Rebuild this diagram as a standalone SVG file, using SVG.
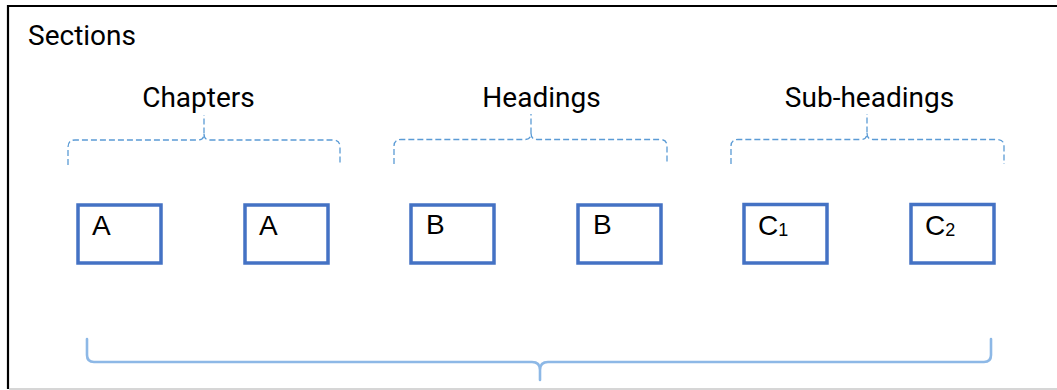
<svg xmlns="http://www.w3.org/2000/svg" width="1057" height="390" viewBox="0 0 1057 390">
<style>
.hdr{font-family:Roboto,"Liberation Sans",sans-serif;font-size:28px;fill:#000}
.lbl{font-family:"Liberation Sans",Arial,sans-serif;font-size:28px;fill:#000}
.box{fill:#fff;stroke:#4472C4;stroke-width:3.5}
.dash{fill:none;stroke:#5B9BD5;stroke-width:1.3;stroke-dasharray:6 3}
.brace{fill:none;stroke:#8DB8E6;stroke-width:2.6;stroke-linecap:round}
</style>
<rect x="0" y="0" width="1057" height="390" fill="#fff"/>
<g id="frame">
<line x1="1057" y1="6" x2="8" y2="6" stroke="#000" stroke-width="2.2"/>
<line x1="8" y1="5" x2="8" y2="389" stroke="#000" stroke-width="2.2"/>
<line x1="9" y1="389" x2="1057" y2="389" stroke="#c8c8c8" stroke-width="1.5"/>
</g>
<g id="title"><text class="hdr" x="28" y="45">Sections</text></g>
<g id="chapters"><text class="hdr" x="198.5" y="107" text-anchor="middle">Chapters</text></g>
<g id="headings"><text class="hdr" x="541.5" y="107" text-anchor="middle">Headings</text></g>
<g id="subheadings"><text class="hdr" x="869.5" y="107" text-anchor="middle">Sub-headings</text></g>
<g id="connectors">
<path class="dash" d="M68,165 L68,147 Q68,140 75,140 L198,140 Q204,140 204,134 L204,115 M204,134 Q204,140 210,140 L333,140 Q340,140 340,147 L340,165"/>
<path class="dash" d="M394,164 L394,146 Q394,139.5 401,139.5 L525,139.5 Q531,139.5 531,133 L531,114 M531,133 Q531,139.5 537,139.5 L660,139.5 Q667,139.5 667,146 L667,164"/>
<path class="dash" d="M731,164 L731,146 Q731,139.5 738,139.5 L861,139.5 Q867,139.5 867,133 L867,114 M867,133 Q867,139.5 873,139.5 L997,139.5 Q1004,139.5 1004,146 L1004,164"/>
<path class="brace" d="M87,339 L87,355 Q87,362 94,362 L532,362 Q540,362 540,370 L540,380 M540,370 Q540,362 548,362 L984,362 Q991,362 991,355 L991,339"/>
</g>
<g id="nodeA1"><rect class="box" x="78" y="205" width="83" height="58"/><text class="lbl" x="92" y="235">A</text></g>
<g id="nodeA2"><rect class="box" x="245" y="205" width="83" height="58"/><text class="lbl" x="259" y="235">A</text></g>
<g id="nodeB1"><rect class="box" x="411" y="205" width="83" height="58"/><text class="lbl" x="426" y="234">B</text></g>
<g id="nodeB2"><rect class="box" x="578" y="205" width="83" height="58"/><text class="lbl" x="593" y="234">B</text></g>
<g id="nodeC1"><rect class="box" x="744" y="204.5" width="83" height="58.5"/><text class="lbl" x="758" y="235">C<tspan font-size="18" dy="1">1</tspan></text></g>
<g id="nodeC2"><rect class="box" x="911" y="204.5" width="83" height="58.5"/><text class="lbl" x="925" y="235">C<tspan font-size="18" dy="1">2</tspan></text></g>
</svg>
